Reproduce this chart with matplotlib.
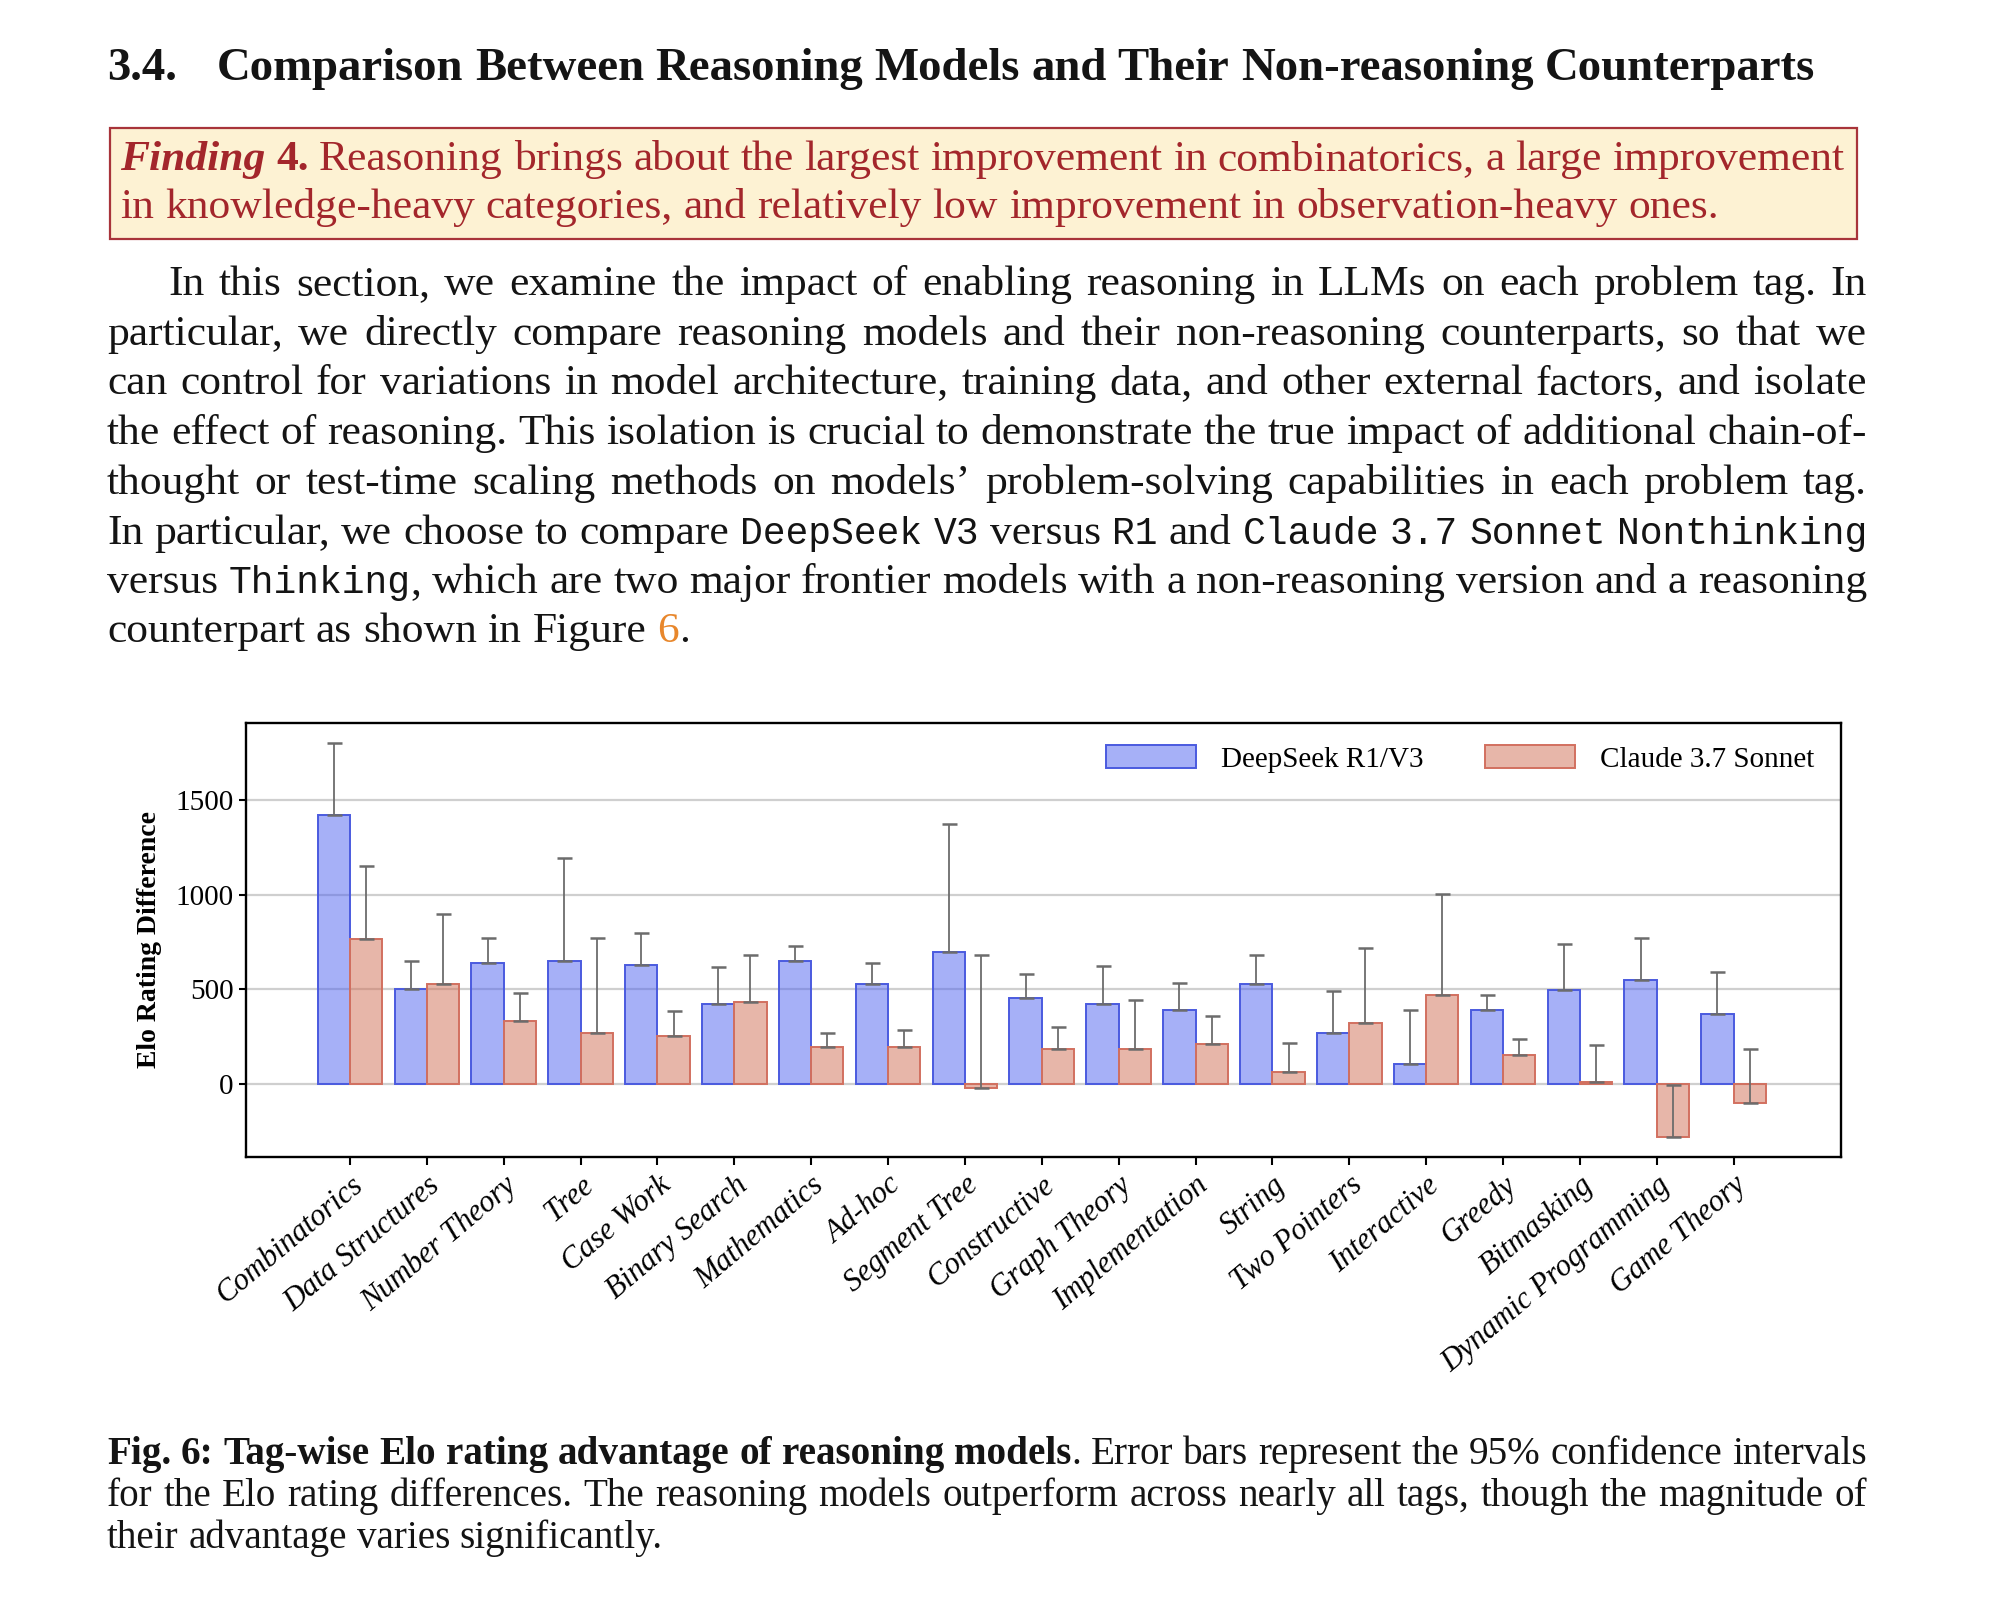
import matplotlib
matplotlib.use('Agg')
import matplotlib.pyplot as plt
from matplotlib.patches import Rectangle
import numpy as np

# ---------------- data ----------------
tags = ["Combinatorics", "Data Structures", "Number Theory", "Tree", "Case Work",
        "Binary Search", "Mathematics", "Ad-hoc", "Segment Tree", "Constructive",
        "Graph Theory", "Implementation", "String", "Two Pointers", "Interactive",
        "Greedy", "Bitmasking", "Dynamic Programming", "Game Theory"]
deepseek_diff = [1421, 500, 641, 651, 627, 423, 651, 526, 697, 456,
                 423, 389, 526, 266, 107, 389, 495, 549, 368]
deepseek_upper = [1805, 650, 773, 1194, 796, 616, 729, 637, 1375, 581,
                  625, 532, 681, 491, 389, 468, 738, 773, 592]
claude_diff = [764, 526, 331, 266, 254, 435, 197, 197, -23, 185,
               185, 210, 60, 322, 468, 151, 12, -283, -104]
claude_upper = [1151, 900, 479, 773, 387, 683, 271, 285, 683, 298,
                444, 356, 218, 717, 1002, 239, 206, -9, 185]
series_names = ["DeepSeek R1/V3", "Claude 3.7 Sonnet"]
y_ticks = [0, 500, 1000, 1500]

# ---------------- page setup ----------------
W, H = 2000, 1600
SERIF = 'Liberation Serif'
MONO = 'Liberation Mono'
plt.rcParams['font.family'] = [SERIF, 'DejaVu Serif']
TEXT_COL = '#141414'
RED_TXT = '#A3262B'
ORANGE = '#E8872C'

fig = plt.figure(figsize=(W / 100, H / 100), dpi=100)
fig.patch.set_facecolor('white')
renderer = fig.canvas.get_renderer()

mono_scale = [1.0]


def style_kw(st, fs, color):
    kw = dict(fontsize=fs, family=[SERIF, 'DejaVu Serif'], color=color)
    if 'b' in st:
        kw['fontweight'] = 'bold'
    if 'i' in st:
        kw['fontstyle'] = 'italic'
    if 'm' in st:
        kw['family'] = [MONO, 'DejaVu Sans Mono']
        kw['fontsize'] = fs * mono_scale[0]
    if 'o' in st:
        kw['color'] = ORANGE
    return kw


_cache = {}


def text_width(s, st, fs):
    eff = fs * (mono_scale[0] if 'm' in st else 1.0)
    key = (s, st, round(eff, 4))
    if key not in _cache:
        t = fig.text(0, 0, s, **style_kw(st, fs, 'k'))
        _cache[key] = t.get_window_extent(renderer).width
        t.remove()
    return _cache[key]


def space_width(fs):
    return text_width("a a", 'r', fs) - text_width("aa", 'r', fs)


def words_from_runs(runs):
    words = [[]]
    for text, st in runs:
        parts = text.split(' ')
        for i, p in enumerate(parts):
            if i > 0:
                words.append([])
            if p:
                words[-1].append((p, st))
    return [w for w in words if w]


def word_width(word, fs):
    return sum(text_width(p, st, fs) for p, st in word)


def natural_width(words, fs):
    return sum(word_width(w, fs) for w in words) + (len(words) - 1) * space_width(fs)


def fit_fs(lines, targets, base=30.0):
    return base * min(t / natural_width(words_from_runs(l), base) for l, t in zip(lines, targets))


def draw_line(runs, x0, y, fs, color, x1=None):
    words = words_from_runs(runs)
    ws = [word_width(w, fs) for w in words]
    if x1 is not None and len(words) > 1:
        gap = (x1 - x0 - sum(ws)) / (len(words) - 1)
    else:
        gap = space_width(fs)
    x = x0
    for w, wd in zip(words, ws):
        xx = x
        for p, st in w:
            fig.text(xx / W, 1 - y / H, p, va='baseline', ha='left', **style_kw(st, fs, color))
            xx += text_width(p, st, fs)
        x += wd + gap


# ---------------- heading ----------------
title_runs = [("Comparison Between Reasoning Models and Their Non-reasoning Counterparts", 'b')]
head_fs = fit_fs([title_runs], [1815 - 217])
draw_line([("3.4.", 'b')], 107, 80, head_fs, TEXT_COL)
draw_line(title_runs, 217, 80, head_fs, TEXT_COL, x1=1815)

# ---------------- finding box ----------------
fig.add_artist(Rectangle((110 / W, 1 - 239 / H), (1857 - 110) / W, (239 - 128) / H,
                         transform=fig.transFigure, facecolor='#FDF2D3',
                         edgecolor='#A8343A', lw=1.6, zorder=0))
find1 = [("Finding", 'bi'), (" 4.", 'b'),
         (" Reasoning brings about the largest improvement in combinatorics, a large improvement", 'r')]
find2 = [("in knowledge-heavy categories, and relatively low improvement in observation-heavy ones.", 'r')]
find_fs = fit_fs([find1], [1844 - 120])
draw_line(find1, 120, 170, find_fs, RED_TXT, x1=1844)
draw_line(find2, 120, 218, find_fs, RED_TXT)

# ---------------- paragraph ----------------
para = [
    [("In this section, we examine the impact of enabling reasoning in LLMs on each problem tag. In", 'r')],
    [("particular, we directly compare reasoning models and their non-reasoning counterparts, so that we", 'r')],
    [("can control for variations in model architecture, training data, and other external factors, and isolate", 'r')],
    [("the effect of reasoning. This isolation is crucial to demonstrate the true impact of additional chain-of-", 'r')],
    [("thought or test-time scaling methods on models\u2019 problem-solving capabilities in each problem tag.", 'r')],
    [("In particular, we choose to compare ", 'r'), ("DeepSeek V3", 'm'), (" versus ", 'r'), ("R1", 'm'),
     (" and ", 'r'), ("Claude 3.7 Sonnet Nonthinking", 'm')],
    [("versus ", 'r'), ("Thinking", 'm'),
     (", which are two major frontier models with a non-reasoning version and a reasoning", 'r')],
    [("counterpart as shown in Figure ", 'r'), ("6", 'o'), (".", 'r')],
]
para_base = [295, 345, 394, 444, 494, 544, 593, 642]
para_x0 = [168] + [107] * 7
serif_lines = [0, 1, 2, 3, 4]
para_fs = fit_fs([para[i] for i in serif_lines], [1867 - para_x0[i] for i in serif_lines])
# size the monospace words so that the mixed line fits with normal spacing
line6 = words_from_runs(para[5])
serif_part = sum(text_width(p, st, para_fs) for w in line6 for p, st in w if 'm' not in st)
spaces = (len(line6) - 1) * space_width(para_fs)
mono_scale[0] = 1.0
mono_part = sum(text_width(p, st, para_fs) for w in line6 for p, st in w if 'm' in st)
mono_scale[0] = min(1.0, (1867 - 107 - serif_part - spaces) / mono_part)
for i, (runs, yb, x0) in enumerate(zip(para, para_base, para_x0)):
    draw_line(runs, x0, yb, para_fs, TEXT_COL, x1=(1867 if i < 7 else None))

# ---------------- caption ----------------
cap = [
    [("Fig. 6: Tag-wise Elo rating advantage of reasoning models", 'b'),
     (". Error bars represent the 95% confidence intervals", 'r')],
    [("for the Elo rating differences. The reasoning models outperform across nearly all tags, though the magnitude of", 'r')],
    [("their advantage varies significantly.", 'r')],
]
cap_base = [1464, 1506, 1548]
cap_fs = fit_fs(cap[:2], [1867 - 107] * 2)
for i, (runs, yb) in enumerate(zip(cap, cap_base)):
    draw_line(runs, 107, yb, cap_fs, TEXT_COL, x1=(1867 if i < 2 else None))

# ---------------- chart ----------------
ax = fig.add_axes([0.1231, 0.2769, 0.7975, 0.2712])
x = np.arange(len(tags))
bw = 0.42
ds = np.array(deepseek_diff)
cl = np.array(claude_diff)
ds_up = np.array(deepseek_upper) - ds
cl_up = np.array(claude_upper) - cl

ax.bar(x - bw / 2, ds, bw, color=(0.31, 0.39, 0.94, 0.5), edgecolor='#4A5ADF',
       linewidth=1.4, label=series_names[0], zorder=2)
ax.bar(x + bw / 2, cl, bw, color=(0.82, 0.43, 0.33, 0.5), edgecolor='#D2705F',
       linewidth=1.4, label=series_names[1], zorder=2)
ax.errorbar(x - bw / 2, ds, yerr=[np.zeros_like(ds), ds_up], fmt='none',
            ecolor='#6c6c6c', elinewidth=1.3, capsize=5.4, capthick=1.8, zorder=3)
ax.errorbar(x + bw / 2, cl, yerr=[np.zeros_like(cl), cl_up], fmt='none',
            ecolor='#6c6c6c', elinewidth=1.3, capsize=5.4, capthick=1.8, zorder=3)

ax.set_xlim(-1.35, 19.4)
ax.set_ylim(-387, 1908)
ax.set_yticks(y_ticks)
ax.set_yticklabels([str(v) for v in y_ticks], family=[SERIF], fontsize=21)
ax.set_xticks(x)
ax.set_xticklabels(tags, rotation=40, ha='right', rotation_mode='anchor',
                   fontstyle='italic', family=[SERIF], fontsize=22)
ax.yaxis.grid(True, color='#cfcfcf', linewidth=1.6)
ax.set_axisbelow(True)
for sp in ax.spines.values():
    sp.set_linewidth(1.7)
    sp.set_color('black')
ax.tick_params(axis='y', direction='out', length=5, width=1.5, pad=4)
ax.tick_params(axis='x', direction='out', length=6, width=1.5, pad=4)
ax.set_ylabel('Elo Rating Difference', fontweight='bold', fontsize=20, family=[SERIF])
ax.yaxis.set_label_coords(-0.053, 0.5)

ax.legend(loc='center right', bbox_to_anchor=(0.983, 0.917), ncol=2, frameon=False,
          fontsize=21, handlelength=3.1, handleheight=0.85, columnspacing=2.1,
          handletextpad=0.85, borderaxespad=0, borderpad=0)

fig.savefig('out.png', dpi=100, facecolor='white')
